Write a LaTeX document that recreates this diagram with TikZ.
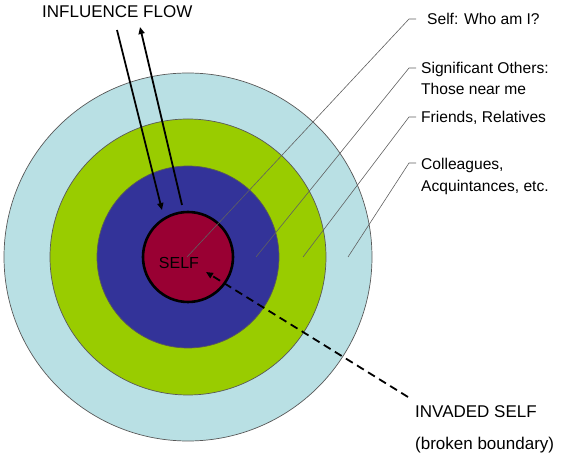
\documentclass[tikz,border=0pt]{standalone}
\usepackage{fontspec}
\setmainfont{Liberation Sans}
\usetikzlibrary{arrows.meta}
\definecolor{acqfill}{HTML}{B9E0E4}
\definecolor{friendfill}{HTML}{99CC00}
\definecolor{nearfill}{HTML}{333399}
\definecolor{selffill}{HTML}{990033}
\definecolor{leadergray}{HTML}{606060}
\begin{document}
\begin{tikzpicture}[x=1pt,y=-1pt,
  ring/.style={circle, draw=black!65, line width=0.7pt, inner sep=0pt},
  leader/.style={draw=leadergray, line width=0.6pt},
  callout/.style={anchor=base west, inner sep=0pt, font=\fontsize{15.6}{18}\selectfont},
  bigtext/.style={anchor=base west, inner sep=0pt, font=\fontsize{17}{20}\selectfont},
  flow/.style={line width=1.8pt, -{Triangle[length=7pt,width=6pt]}},
  invasion/.style={line width=1.8pt, dash pattern=on 8pt off 5pt, -{Triangle[length=7pt,width=6pt]}},
]
\useasboundingbox (0,0) rectangle (563,454);

% concentric circles of relationships
\node[ring, fill=acqfill, minimum size=368pt] (acq) at (188,257) {};
\node[ring, fill=friendfill, minimum size=276pt] (friends) at (188,257) {};
\node[ring, fill=nearfill, minimum size=182pt] (near) at (188,257) {};
\node[circle, draw=black, line width=2.6pt, fill=selffill, inner sep=0pt, minimum size=90pt] (self) at (188,257) {};
\node[anchor=base, inner sep=0pt, font=\fontsize{16}{19}\selectfont] (selftext) at (179,269) {SELF};

% callout labels
\node[callout] (labself) at (427,24.5) {Self: Who am I?};
\node[callout] (labnearA) at (421,74) {Significant Others:};
\node[callout] (labnearB) at (421,95) {Those near me};
\node[callout] (labfriends) at (421,123) {Friends, Relatives};
\node[callout] (labacqA) at (421,170) {Colleagues,};
\node[callout] (labacqB) at (421,192) {Acquintances, etc.};

% leader lines from each ring to its label
\coordinate (pself) at (187,257);
\coordinate (pnear) at (256,257);
\coordinate (pfriends) at (303,257);
\coordinate (pacq) at (348,257);
\coordinate (kself) at (409,19);
\coordinate (knear) at (409,68);
\coordinate (kfriends) at (409,117);
\coordinate (kacq) at (409,163);
\draw[leader] (pself) -- (kself) -- ++(7,0);
\draw[leader] (pnear) -- (knear) -- ++(7,0);
\draw[leader] (pfriends) -- (kfriends) -- ++(7,0);
\draw[leader] (pacq) -- (kacq) -- ++(7,0);

% influence flow in and out of the self
\node[bigtext] (flowtext) at (42,17.5) {INFLUENCE FLOW};
\coordinate (inA) at (117,30);
\coordinate (inB) at (162,210);
\coordinate (outA) at (182,205);
\coordinate (outB) at (140,27);
\draw[flow] (inA) -- (inB);
\draw[flow] (outA) -- (outB);

% invaded self
\node[bigtext] (invaded) at (415,418) {INVADED SELF};
\node[bigtext] (broken) at (415,450) {(broken boundary)};
\coordinate (invA) at (408,397);
\coordinate (invB) at (206,272);
\draw[invasion] (invA) -- (invB);
\end{tikzpicture}
\end{document}
